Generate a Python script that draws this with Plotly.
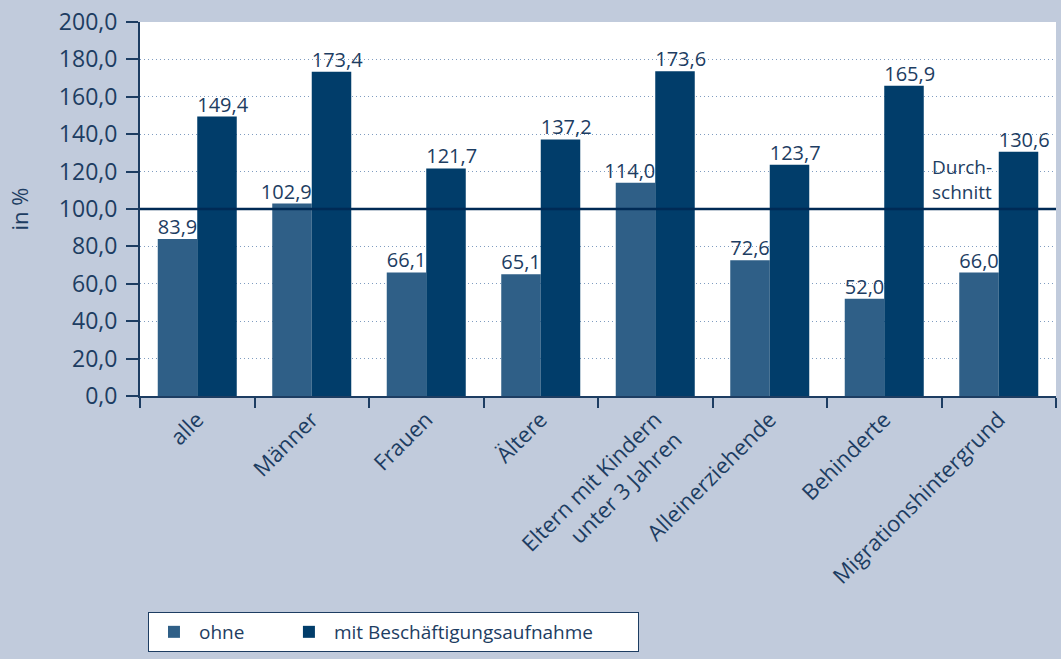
import plotly.graph_objects as go

categories = ["alle", "Männer", "Frauen", "Ältere", "Eltern mit Kindern<br>unter 3 Jahren",
              "Alleinerziehende", "Behinderte", "Migrationshintergrund"]
ohne = [83.9, 102.9, 66.1, 65.1, 114.0, 72.6, 52.0, 66.0]
mit = [149.4, 173.4, 121.7, 137.2, 173.6, 123.7, 165.9, 130.6]
durchschnitt = 100.0
series_names = ["ohne", "mit Beschäftigungsaufnahme"]

navy = "#1d3d62"
c_ohne = "#2f5f87"
c_mit = "#013d6a"
bg = "#c1cbdc"
font_family = "Open Sans, Noto Sans, sans-serif"

def fmt(v):
    return f"{v:.1f}".replace(".", ",")

NB = "\u00a0"

fig = go.Figure()
fig.add_trace(go.Bar(x=categories, y=ohne, name=series_names[0] + NB * 7, marker_color=c_ohne,
                     marker_line_width=0, hoverinfo="skip"))
fig.add_trace(go.Bar(x=categories, y=mit, name=series_names[1] + NB * 8, marker_color=c_mit,
                     marker_line_width=0, hoverinfo="skip"))
# value labels: "ohne" labels end at the group centre, "mit" labels start there
fig.add_trace(go.Scatter(x=categories, y=ohne, mode="text", text=[fmt(v) for v in ohne],
                         textposition="top left", textfont=dict(size=20, color=navy),
                         showlegend=False, hoverinfo="skip", cliponaxis=False))
fig.add_trace(go.Scatter(x=categories, y=mit, mode="text", text=[fmt(v) for v in mit],
                         textposition="top right", textfont=dict(size=20, color=navy),
                         showlegend=False, hoverinfo="skip", cliponaxis=False))

fig.add_shape(type="line", xref="paper", x0=0, x1=1, yref="y", y0=durchschnitt, y1=durchschnitt,
              line=dict(color="#002a55", width=2.5), layer="above")
fig.add_annotation(xref="paper", x=0.862, yref="y", y=durchschnitt + 1, text="Durch-<br>schnitt",
                   showarrow=False, xanchor="left", yanchor="bottom", align="left",
                   font=dict(size=19, color=navy, family=font_family))

fig.update_layout(
    width=1061, height=659,
    margin=dict(l=140, r=5, t=22, b=263),
    paper_bgcolor=bg, plot_bgcolor="white",
    barmode="group", bargap=0.31, bargroupgap=0,
    separators=",.",
    font=dict(family=font_family, color=navy, size=19),
    showlegend=True,
    legend=dict(orientation="h", x=0.0087, xanchor="left", y=-0.5775, yanchor="top",
                bgcolor="white", bordercolor=navy, borderwidth=1,
                font=dict(size=19, color=navy), itemwidth=40),
)
fig.update_xaxes(type="category", tickson="boundaries", ticks="outside", ticklen=10,
                 tickcolor=navy, tickwidth=2, showline=True, linecolor=navy, linewidth=2,
                 tickangle=-45, tickfont=dict(size=22, color=navy), showgrid=False)
fig.update_yaxes(range=[0, 200], dtick=20, tickformat=".1f", ticks="outside", ticklen=12,
                 tickcolor=navy, tickwidth=2, showline=True, linecolor=navy, linewidth=2,
                 ticklabelstandoff=4,
                 tickfont=dict(size=23, color=navy), showgrid=True, gridcolor="#7f9cc0",
                 griddash="1px,3px", gridwidth=1.2, zeroline=False,
                 title=dict(text="in %", font=dict(size=22, color=navy), standoff=24))

fig.write_html("out.html", config={"displayModeBar": False},
               post_script="document.body.style.margin='0';document.body.style.background='%s';window.dispatchEvent(new Event('resize'));" % bg)
